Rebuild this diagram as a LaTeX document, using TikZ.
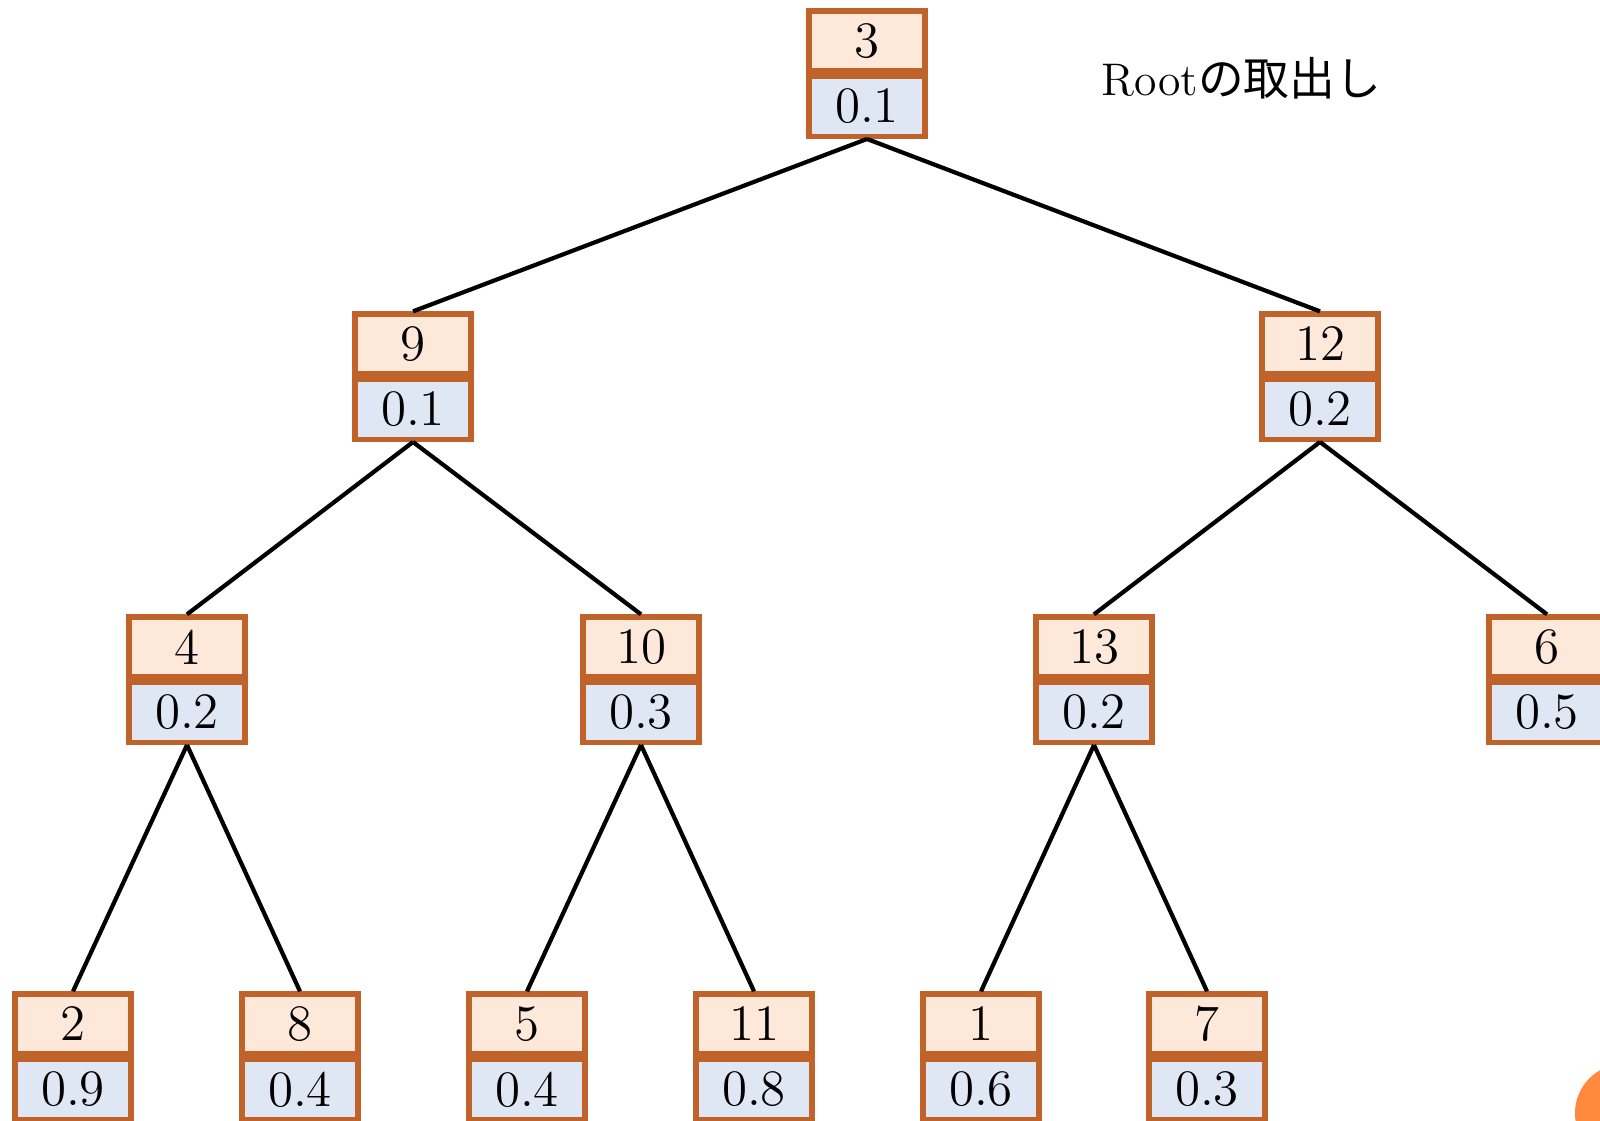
\documentclass[tikz,border=0pt]{standalone}
\usepackage{fontspec}
\usepackage{xcolor}
\usetikzlibrary{positioning}
\newfontfamily\jpfont{Noto Sans CJK JP}
\definecolor{heapkey}{RGB}{253,232,217}
\definecolor{heapval}{RGB}{223,231,245}
\definecolor{heapborder}{RGB}{191,99,43}
\definecolor{heapdot}{RGB}{255,138,61}

\begin{document}
\begin{tikzpicture}[x=0.01cm, y=-0.01cm,
		keybox/.style={draw=heapborder, line width=1.5pt, fill=heapkey, minimum width=1.16cm, minimum height=0.6cm, inner sep=0pt, font=\fontsize{14.5}{17}\selectfont},
		valbox/.style={draw=heapborder, line width=1.5pt, fill=heapval, minimum width=1.16cm, minimum height=0.6cm, inner sep=0pt, font=\fontsize{14.5}{17}\selectfont, below=0pt of #1},
		edge/.style={line width=1.2pt, black}]
				\clip (0,0) rectangle (1600,1120);
				
				% Draw the nodes: key on top, priority below
				\node[keybox] (k3) at (867,41) {3};
				\node[valbox=k3] (p3) {0.1};
				
				\node[keybox] (k9) at (413,344) {9};
				\node[valbox=k9] (p9) {0.1};
				\node[keybox] (k12) at (1320,344) {12};
				\node[valbox=k12] (p12) {0.2};
				
				\node[keybox] (k4) at (187,647) {4};
				\node[valbox=k4] (p4) {0.2};
				\node[keybox] (k10) at (641,647) {10};
				\node[valbox=k10] (p10) {0.3};
				\node[keybox] (k13) at (1094,647) {13};
				\node[valbox=k13] (p13) {0.2};
				\node[keybox] (k6) at (1547,647) {6};
				\node[valbox=k6] (p6) {0.5};
				
				\node[keybox] (k2) at (73,1024) {2};
				\node[valbox=k2] (p2) {0.9};
				\node[keybox] (k8) at (300,1024) {8};
				\node[valbox=k8] (p8) {0.4};
				\node[keybox] (k5) at (527,1024) {5};
				\node[valbox=k5] (p5) {0.4};
				\node[keybox] (k11) at (754,1024) {11};
				\node[valbox=k11] (p11) {0.8};
				\node[keybox] (k1) at (981,1024) {1};
				\node[valbox=k1] (p1) {0.6};
				\node[keybox] (k7) at (1207,1024) {7};
				\node[valbox=k7] (p7) {0.3};
				
				% Tree edges
				\draw[edge] (p3.south) -- (k9.north);
				\draw[edge] (p3.south) -- (k12.north);
				\draw[edge] (p9.south) -- (k4.north);
				\draw[edge] (p9.south) -- (k10.north);
				\draw[edge] (p12.south) -- (k13.north);
				\draw[edge] (p12.south) -- (k6.north);
				\draw[edge] (p4.south) -- (k2.north);
				\draw[edge] (p4.south) -- (k8.north);
				\draw[edge] (p10.south) -- (k5.north);
				\draw[edge] (p10.south) -- (k11.north);
				\draw[edge] (p13.south) -- (k1.north);
				\draw[edge] (p13.south) -- (k7.north);
				
				\node[anchor=base west, inner sep=0pt, font=\fontsize{13}{16}\selectfont] (title) at (1101,95) {Root{\jpfont の取出し}};
				
				% corner dot
				\fill[heapdot] (1624,1113) circle[radius=0.49cm];
			\end{tikzpicture}
\end{document}
